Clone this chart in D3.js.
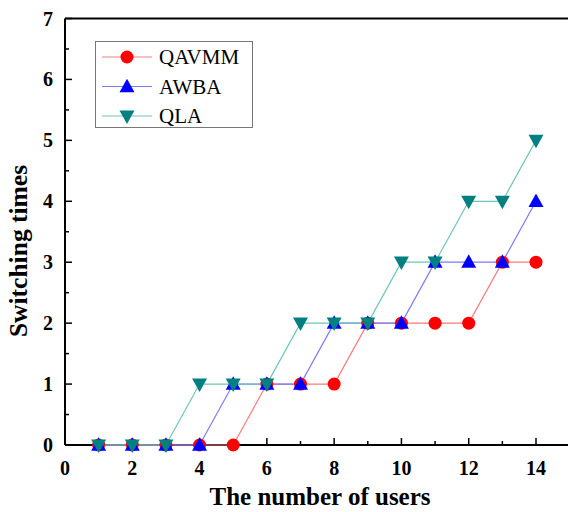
<!DOCTYPE html>
<html><head><meta charset="utf-8">
<script src="https://cdn.jsdelivr.net/npm/d3@7"></script>
<style>body{margin:0;background:#fff}svg{display:block}</style>
</head><body>
<svg id="c" width="568" height="512"></svg>
<script>
const users = [1,2,3,4,5,6,7,8,9,10,11,12,13,14];
const seriesNames = ["QAVMM","AWBA","QLA"];
const qavmm = [0,0,0,0,0,1,1,1,2,2,2,2,3,3];
const awba  = [0,0,0,0,1,1,1,2,2,2,3,3,3,4];
const qla   = [0,0,0,1,1,1,2,2,2,3,3,4,4,5];
const xTicks = [0,2,4,6,8,10,12,14];
const yTicks = [0,1,2,3,4,5,6,7];

const FONT = '"Liberation Serif"';
const svg = d3.select("#c");
const x = d3.scaleLinear().domain([0,14]).range([65,536]);
const y = d3.scaleLinear().domain([0,7]).range([445,18.5]);
const xMax = 568;

const series = [
  {name:seriesNames[0], vals:qavmm, color:"#ff0000", line:"#ff7a7a", shape:"circle"},
  {name:seriesNames[1], vals:awba, color:"#0000ff", line:"#7a7aff", shape:"up"},
  {name:seriesNames[2], vals:qla, color:"#008080", line:"#6ec4bc", shape:"down"}
];

function marker(g, shape, cx, cy, color){
  if(shape==="circle"){
    g.append("circle").attr("cx",cx).attr("cy",cy).attr("r",6.5).attr("fill",color);
  } else if(shape==="up"){
    const s=7.5;
    g.append("path").attr("d",`M${cx},${cy-s*1.05}L${cx+s},${cy+s*0.75}L${cx-s},${cy+s*0.75}Z`).attr("fill",color);
  } else {
    const s=7.5;
    g.append("path").attr("d",`M${cx},${cy+s*1.05}L${cx+s},${cy-s*0.75}L${cx-s},${cy-s*0.75}Z`).attr("fill",color);
  }
}

svg.append("line").attr("x1",x(0)).attr("x2",xMax).attr("y1",y(0)).attr("y2",y(0)).attr("stroke","#000").attr("stroke-width",2);
svg.append("line").attr("x1",x(0)).attr("x2",xMax).attr("y1",y(7)).attr("y2",y(7)).attr("stroke","#000").attr("stroke-width",2);
svg.append("line").attr("x1",x(0)).attr("x2",x(0)).attr("y1",y(0)).attr("y2",y(7)).attr("stroke","#000").attr("stroke-width",2);

const xt = svg.append("g");
d3.range(0,15,1).forEach(v=>{
  const major = v%2===0;
  xt.append("line").attr("x1",x(v)).attr("x2",x(v)).attr("y1",y(0)).attr("y2",y(0)-(major?7:4)).attr("stroke","#000").attr("stroke-width",1.5);
});
xTicks.forEach(v=>{
  xt.append("text").attr("x",x(v)).attr("y",y(0)+30).attr("text-anchor","middle")
    .style("font-family",FONT).style("font-weight","bold").style("font-size","20px").text(v);
});
const yt = svg.append("g");
d3.range(0,7.01,0.5).forEach(v=>{
  const major = Math.abs(v-Math.round(v))<1e-6;
  yt.append("line").attr("x1",x(0)).attr("x2",x(0)+(major?7:4)).attr("y1",y(v)).attr("y2",y(v)).attr("stroke","#000").attr("stroke-width",1.5);
});
yTicks.forEach(v=>{
  yt.append("text").attr("x",x(0)-12).attr("y",y(v)+7).attr("text-anchor","end")
    .style("font-family",FONT).style("font-weight","bold").style("font-size","20px").text(v);
});

svg.append("text").attr("x",320).attr("y",505).attr("text-anchor","middle")
  .style("font-family",FONT).style("font-weight","bold").style("font-size","25px").text("The number of users");
svg.append("text").attr("transform","translate(27,251) rotate(-90)").attr("text-anchor","middle")
  .style("font-family",FONT).style("font-weight","bold").style("font-size","25.5px").text("Switching times");

const lineGen = d3.line().x((d,i)=>x(users[i])).y(d=>y(d));
series.forEach(s=>{
  svg.append("path").attr("d",lineGen(s.vals)).attr("fill","none").attr("stroke",s.line).attr("stroke-width",1.2);
});
series.forEach(s=>{
  const g = svg.append("g");
  s.vals.forEach((v,i)=>marker(g,s.shape,x(users[i]),y(v),s.color));
});

const lg = svg.append("g");
lg.append("rect").attr("x",95.5).attr("y",41.5).attr("width",157).attr("height",86).attr("fill","#fff").attr("stroke","#777").attr("stroke-width",1);
series.forEach((s,i)=>{
  const cy = 57 + i*29.5;
  lg.append("line").attr("x1",102).attr("x2",152).attr("y1",cy).attr("y2",cy).attr("stroke",s.line).attr("stroke-width",1.2);
  marker(lg,s.shape,127,cy,s.color);
  lg.append("text").attr("x",159).attr("y",cy+7).style("font-family",FONT).style("font-size","21px").text(s.name);
});
</script>
</body></html>
